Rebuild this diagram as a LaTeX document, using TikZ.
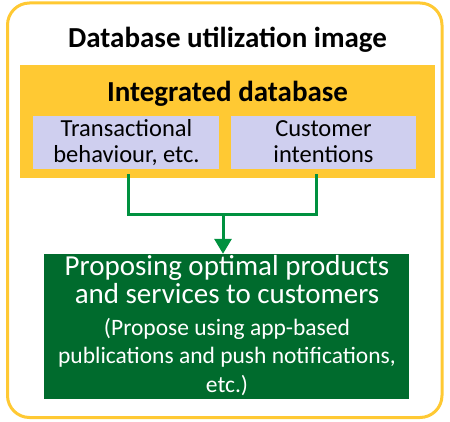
\documentclass[tikz,border=0pt]{standalone}
\usepackage{fontspec}
\setmainfont{Carlito}
\usetikzlibrary{arrows.meta}
\definecolor{dbgold}{HTML}{FFC933}
\definecolor{dblav}{HTML}{CFCFEF}
\definecolor{dbline}{HTML}{00913F}
\definecolor{dbgreen}{HTML}{006B2D}
\tikzset{
  frame/.style={draw=dbgold, line width=3pt, rounded corners=22pt},
  panel/.style={fill=dbgold, inner sep=0pt, minimum width=415pt, minimum height=113pt},
  databox/.style={fill=dblav, inner sep=0pt, minimum width=185pt, minimum height=53pt},
  resultbox/.style={fill=dbgreen, inner sep=0pt, minimum width=365pt, minimum height=145pt},
  heading/.style={font=\fontsize{29}{29}\selectfont\bfseries, inner sep=0pt, anchor=base},
  boxtext/.style={font=\fontsize{24.5}{26}\selectfont, align=center, inner sep=0pt, anchor=base},
  flow/.style={draw=dbline, line width=3pt},
}
\begin{document}
\begin{tikzpicture}[x=1pt, y=-1pt]
\useasboundingbox (0,0) rectangle (450,422);

% outer frame and title
\draw[frame] (7.5,3) rectangle (442,417.5);
\node[heading] (title) at (227.5,48) {Database utilization image};

% integrated database with its two data sources
\node[panel] (db) at (227.5,121.5) {};
\node[heading] (dbtitle) at (227.5,102) {Integrated database};
\node[databox, minimum width=186pt] (trans) at (126,142.5) {};
\node[boxtext] (transtext) at (126.5,163) {Transactional\\behaviour, etc.};
\node[databox] (intent) at (323.5,142.5) {};
\node[boxtext] (intenttext) at (323.5,163) {Customer\\intentions};

% result box
\node[resultbox] (result) at (226.5,326.5) {};
\node[font=\fontsize{29}{28}\selectfont, text=white, align=center, inner sep=0pt, anchor=base]
  (resmain) at (227,303) {Proposing optimal products\\and services to customers};
\node[font=\fontsize{23.5}{28.5}\selectfont, text=white, align=center, inner sep=0pt, anchor=base]
  (resnote) at (227,392) {(Propose using app-based\\publications and push notifications,\\etc.)};

% connectors
\coordinate (ls) at ([xshift=2pt,yshift=-5pt]trans.south);
\coordinate (rs) at ([xshift=-7.5pt,yshift=-5pt]intent.south);
\coordinate (join) at (223,215);
\draw[flow] (ls) -- (ls |- join) -- (rs |- join) -- (rs);
\draw[flow, -{Triangle[width=17pt,length=15pt]}] (join) -- (join |- result.north);
\end{tikzpicture}
\end{document}
